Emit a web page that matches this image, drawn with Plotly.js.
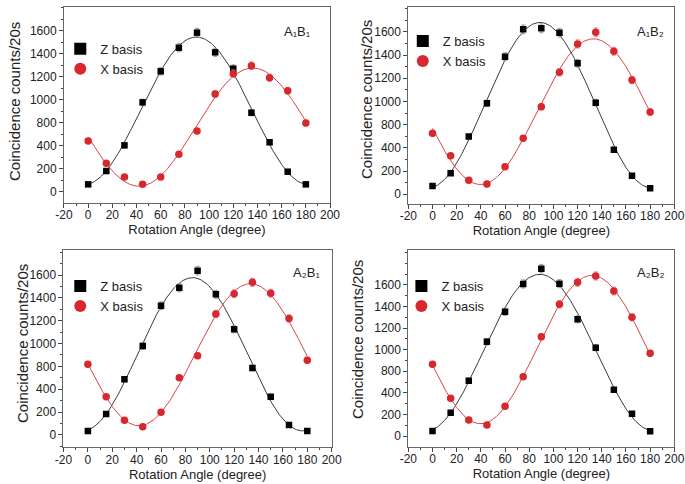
<!DOCTYPE html>
<html><head><meta charset="utf-8">
<script src="https://cdn.plot.ly/plotly-3.0.1.min.js"></script>
<style>html,body{margin:0;padding:0;background:#fff}#chart{width:685px;height:484px}</style>
</head><body><div id="chart"></div>
<script>
// ---- data ----
const angles = [0, 15, 30, 45, 60, 75, 90, 105, 120, 135, 150, 165, 180];
const zA1B1 = [64, 180, 403, 777, 1047, 1252, 1383, 1212, 1070, 687, 430, 174, 64];
const xA1B1 = [441, 247, 128, 64, 128, 325, 528, 850, 1026, 1096, 991, 878, 597];
const zA1B2 = [72, 181, 497, 784, 1186, 1422, 1431, 1393, 1129, 790, 384, 160, 52];
const xA1B2 = [526, 333, 121, 89, 238, 483, 755, 1052, 1296, 1397, 1233, 985, 709];
const zA2B1 = [35, 184, 487, 779, 1131, 1289, 1438, 1231, 925, 586, 335, 87, 35];
const xA2B1 = [619, 335, 129, 73, 199, 501, 694, 1059, 1236, 1336, 1240, 1019, 654];
const zA2B2 = [46, 216, 513, 874, 1152, 1409, 1551, 1412, 1082, 818, 429, 207, 43];
const xA2B2 = [664, 349, 148, 102, 275, 550, 920, 1221, 1424, 1483, 1344, 1100, 766];
const panelNames = ['A\u2081B\u2081', 'A\u2081B\u2082', 'A\u2082B\u2081', 'A\u2082B\u2082'];
const seriesNames = ['Z basis', 'X basis'];
const xTitle = 'Rotation Angle (degree)';
const yTitle = 'Coincidence counts/20s';
const xTickVals = [-20, 0, 20, 40, 60, 80, 100, 120, 140, 160, 180, 200];
const xTickText = ['-20', '0', '20', '40', '60', '80', '100', '120', '140', '160', '180', '200'];
const yTickVals = [0, 200, 400, 600, 800, 1000, 1200, 1400];
const yTickText = ['0', '200', '400', '800', '1000', '1200', '1400', '1600'];

// ---- least-squares sinusoid fit y = a + b cos(k t) + c sin(k t), k found by a 1-D search ----
function solveLinear(th, y, k) {
  const M = [[0,0,0],[0,0,0],[0,0,0]], v = [0,0,0];
  for (let i = 0; i < th.length; i++) {
    const t = th[i] * Math.PI / 180;
    const f = [1, Math.cos(k*t), Math.sin(k*t)];
    for (let r = 0; r < 3; r++) { v[r] += f[r]*y[i]; for (let c = 0; c < 3; c++) M[r][c] += f[r]*f[c]; }
  }
  for (let q = 0; q < 3; q++) {
    for (let r = q+1; r < 3; r++) {
      const m = M[r][q] / M[q][q];
      for (let c = q; c < 3; c++) M[r][c] -= m*M[q][c];
      v[r] -= m*v[q];
    }
  }
  const p = [0,0,0];
  for (let r = 2; r >= 0; r--) { let s = v[r]; for (let c = r+1; c < 3; c++) s -= M[r][c]*p[c]; p[r] = s / M[r][r]; }
  let sse = 0;
  for (let i = 0; i < th.length; i++) {
    const t = th[i] * Math.PI / 180;
    const e = y[i] - (p[0] + p[1]*Math.cos(k*t) + p[2]*Math.sin(k*t));
    sse += e*e;
  }
  return {p, sse};
}
function fitSine(th, y) {
  let best = null;
  for (let k = 1.6; k <= 2.4; k += 0.002) {
    const r = solveLinear(th, y, k);
    if (!best || r.sse < best.sse) best = {k, p: r.p, sse: r.sse};
  }
  const xs = [], ys = [];
  for (let d = th[0]; d <= th[th.length-1]; d += 1) {
    const t = d * Math.PI / 180;
    xs.push(d); ys.push(best.p[0] + best.p[1]*Math.cos(best.k*t) + best.p[2]*Math.sin(best.k*t));
  }
  return {xs, ys};
}

const FONT = 'Liberation Sans, Arial, Helvetica, sans-serif';
const RED = '#d8282e', BLACK = '#000000';
const panels = [
  {z: zA1B1, x: xA1B1, xa: 'x', ya: 'y', lg: 'legend',
   xdom: [0.0934, 0.4818], ydom: [0.5806, 0.9855], yr: [-98, 1606],
   lgx: 0.088, lgy: 0.93, lbx: 0.435, lby: 0.934, ytx: 0.0204, yty: 0.7913},
  {z: zA1B2, x: xA1B2, xa: 'x2', ya: 'y2', lg: 'legend2',
   xdom: [0.5961, 0.9844], ydom: [0.5785, 0.9849], yr: [-84, 1612],
   lgx: 0.588, lgy: 0.946, lbx: 0.949, lby: 0.934, ytx: 0.5358, yty: 0.7934},
  {z: zA2B1, x: xA2B1, xa: 'x3', ya: 'y3', lg: 'legend3',
   xdom: [0.0927, 0.4842], ydom: [0.0758, 0.4835], yr: [-108, 1619],
   lgx: 0.088, lgy: 0.44, lbx: 0.448, lby: 0.438, ytx: 0.0321, yty: 0.2913},
  {z: zA2B2, x: xA2B2, xa: 'x4', ya: 'y4', lg: 'legend4',
   xdom: [0.5961, 0.9844], ydom: [0.0771, 0.4835], yr: [-99, 1724],
   lgx: 0.586, lgy: 0.44, lbx: 0.949, lby: 0.438, ytx: 0.5212, yty: 0.2975}
];

const traces = [];
const layout = {
  width: 685, height: 484, margin: {l: 0, r: 0, t: 0, b: 0},
  paper_bgcolor: '#fff', plot_bgcolor: '#fff',
  font: {family: FONT, color: '#222', size: 12},
  showlegend: true, annotations: []
};

panels.forEach((p, i) => {
  const n = i === 0 ? '' : String(i + 1);
  const fz = fitSine(angles, p.z), fx = fitSine(angles, p.x);
  traces.push({x: fz.xs, y: fz.ys, xaxis: p.xa, yaxis: p.ya, mode: 'lines', showlegend: false,
               line: {color: '#3a3a3a', width: 1}, hoverinfo: 'skip'});
  traces.push({x: fx.xs, y: fx.ys, xaxis: p.xa, yaxis: p.ya, mode: 'lines', showlegend: false,
               line: {color: '#d94545', width: 1}, hoverinfo: 'skip'});
  traces.push({x: angles, y: p.z, xaxis: p.xa, yaxis: p.ya, mode: 'markers', name: seriesNames[0],
               legend: p.lg, marker: {symbol: 'square', size: 6.5, color: BLACK},
               error_y: {type: 'sqrt', color: '#9a9a9a', thickness: 1, width: 2}});
  traces.push({x: angles, y: p.x, xaxis: p.xa, yaxis: p.ya, mode: 'markers', name: seriesNames[1],
               legend: p.lg, marker: {symbol: 'circle', size: 7.5, color: RED},
               error_y: {type: 'sqrt', color: '#e29a9a', thickness: 1, width: 2}});

  layout['xaxis' + n] = {
    domain: p.xdom, anchor: p.ya, range: [-20, 200], tickmode: 'array',
    tickvals: xTickVals, ticktext: xTickText, ticks: 'outside', ticklen: 4, tickcolor: '#444',
    ticklabelstandoff: -3,
    showline: true, linecolor: '#666', linewidth: 1, mirror: true, showgrid: false, zeroline: false,
    tickfont: {size: 12, color: '#222'},
    title: {text: xTitle, font: {size: 13, color: '#222'}, standoff: 0},
    minor: {tickmode: 'linear', tick0: 0, dtick: 10, ticks: 'outside', ticklen: 2, tickcolor: '#444'},
    fixedrange: true
  };
  layout['yaxis' + n] = {
    domain: p.ydom, anchor: p.xa, range: p.yr, tickmode: 'array',
    tickvals: yTickVals, ticktext: yTickText, ticks: 'outside', ticklen: 4, tickcolor: '#444',
    showline: true, linecolor: '#666', linewidth: 1, mirror: true, showgrid: false, zeroline: false,
    tickfont: {size: 12, color: '#222'},
    minor: {tickmode: 'linear', tick0: 0, dtick: 100, ticks: 'outside', ticklen: 2, tickcolor: '#444'},
    fixedrange: true
  };
  layout[p.lg] = {
    x: p.lgx, y: p.lgy, xanchor: 'left', yanchor: 'top', bgcolor: 'rgba(0,0,0,0)',
    font: {size: 13, color: '#222'}, itemsizing: 'constant', tracegroupgap: 0
  };
  layout.annotations.push({
    text: panelNames[i], xref: 'paper', yref: 'paper', x: p.lbx, y: p.lby,
    xanchor: 'center', yanchor: 'middle', showarrow: false, font: {size: 13, color: '#222'}
  });
  layout.annotations.push({
    text: yTitle, xref: 'paper', yref: 'paper', x: p.ytx, y: p.yty, textangle: -90,
    xanchor: 'center', yanchor: 'middle', showarrow: false, font: {size: 15, color: '#222'}
  });
});

Plotly.newPlot('chart', traces, layout, {displayModeBar: false, staticPlot: true});
</script>
</body></html>
